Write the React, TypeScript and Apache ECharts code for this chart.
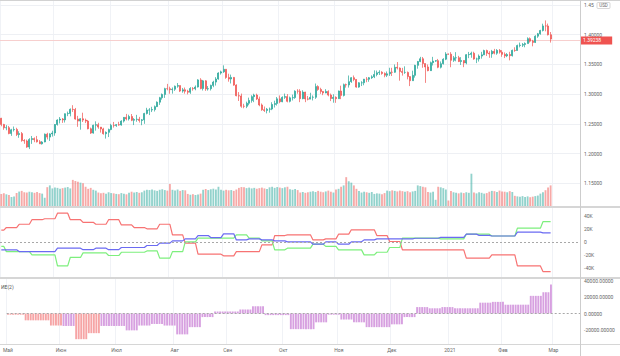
import React, { useEffect, useRef } from 'react';
import * as echarts from 'echarts';

// ---------- categories ----------
const MONTH_KEYS = ['2020-05', '2020-06', '2020-07', '2020-08', '2020-09', '2020-10', '2020-11', '2020-12', '2021-01', '2021-02', '2021-03'];
const MONTH_LABELS = ['Май', 'Июн', 'Июл', 'Авг', 'Сен', 'Окт', 'Ноя', 'Дек', '2021', 'Фев', 'Мар'];
const MONTH_DAYS: number[][] = [
  [1, 4, 5, 6, 7, 8, 11, 12, 13, 14, 15, 18, 19, 20, 21, 22, 25, 26, 27, 28, 29],
  [1, 2, 3, 4, 5, 8, 9, 10, 11, 12, 15, 16, 17, 18, 19, 22, 23, 24, 25, 26, 29, 30],
  [1, 2, 3, 6, 7, 8, 9, 10, 13, 14, 15, 16, 17, 20, 21, 22, 23, 24, 27, 28, 29, 30, 31],
  [3, 4, 5, 6, 7, 10, 11, 12, 13, 14, 17, 18, 19, 20, 21, 24, 25, 26, 27, 28, 31],
  [1, 2, 3, 4, 7, 8, 9, 10, 11, 14, 15, 16, 17, 18, 21, 22, 23, 24, 25, 28, 29, 30],
  [1, 2, 5, 6, 7, 8, 9, 12, 13, 14, 15, 16, 19, 20, 21, 22, 23, 26, 27, 28, 29, 30],
  [2, 3, 4, 5, 6, 9, 10, 11, 12, 13, 16, 17, 18, 19, 20, 23, 24, 25, 26, 27, 30],
  [1, 2, 3, 4, 7, 8, 9, 10, 11, 14, 15, 16, 17, 18, 21, 22, 23, 24, 25, 28, 29, 30, 31],
  [1, 4, 5, 6, 7, 8, 11, 12, 13, 14, 15, 18, 19, 20, 21, 22, 25, 26, 27, 28, 29],
  [1, 2, 3, 4, 5, 8, 9, 10, 11, 12, 15, 16, 17, 18, 19, 22, 23, 24, 25, 26],
  [1, 2, 3, 4, 5, 8, 9, 10, 11, 12, 15],
];

// ---------- daily candles [open, close, low, high] ----------
const OHLC_MAY = [
  [1.2594, 1.2490, 1.2459, 1.2600], [1.2490, 1.2434, 1.2400, 1.2500], [1.2434, 1.2436, 1.2392, 1.2478],
  [1.2436, 1.2337, 1.2325, 1.2465], [1.2337, 1.2400, 1.2298, 1.2416], [1.2400, 1.2406, 1.2371, 1.2455],
  [1.2406, 1.2320, 1.2295, 1.2434], [1.2320, 1.2336, 1.2266, 1.2376], [1.2336, 1.2220, 1.2199, 1.2363],
  [1.2220, 1.2213, 1.2165, 1.2243], [1.2213, 1.2110, 1.2097, 1.2235], [1.2110, 1.2236, 1.2076, 1.2259],
  [1.2236, 1.2252, 1.2163, 1.2296], [1.2252, 1.2233, 1.2192, 1.2272], [1.2233, 1.2198, 1.2186, 1.2297],
  [1.2198, 1.2164, 1.2163, 1.2228], [1.2164, 1.2195, 1.2152, 1.2210], [1.2195, 1.2327, 1.2190, 1.2337],
  [1.2327, 1.2277, 1.2238, 1.2350], [1.2277, 1.2331, 1.2213, 1.2342], [1.2331, 1.2346, 1.2286, 1.2384],
];
const OHLC_JUN = [
  [1.2346, 1.2489, 1.2300, 1.2496], [1.2489, 1.2564, 1.2470, 1.2577], [1.2564, 1.2581, 1.2507, 1.2614],
  [1.2581, 1.2566, 1.2516, 1.2598], [1.2566, 1.2670, 1.2522, 1.2674], [1.2670, 1.2674, 1.2629, 1.2706],
  [1.2674, 1.2744, 1.2626, 1.2759], [1.2744, 1.2741, 1.2700, 1.2813], [1.2741, 1.2580, 1.2569, 1.2767],
  [1.2580, 1.2546, 1.2450, 1.2634], [1.2546, 1.2585, 1.2402, 1.2596], [1.2585, 1.2563, 1.2531, 1.2687],
  [1.2563, 1.2546, 1.2513, 1.2588], [1.2546, 1.2417, 1.2408, 1.2565], [1.2417, 1.2345, 1.2330, 1.2437],
  [1.2345, 1.2477, 1.2335, 1.2486], [1.2477, 1.2486, 1.2386, 1.2542], [1.2486, 1.2445, 1.2417, 1.2518],
  [1.2445, 1.2414, 1.2353, 1.2448], [1.2414, 1.2334, 1.2319, 1.2434], [1.2334, 1.2357, 1.2252, 1.2373],
  [1.2357, 1.2404, 1.2278, 1.2420],
];
const OHLC_JUL = [
  [1.2404, 1.2474, 1.2393, 1.2500], [1.2474, 1.2470, 1.2437, 1.2532], [1.2470, 1.2486, 1.2449, 1.2497],
  [1.2486, 1.2480, 1.2469, 1.2534], [1.2480, 1.2546, 1.2469, 1.2561], [1.2546, 1.2609, 1.2522, 1.2614],
  [1.2609, 1.2583, 1.2558, 1.2667], [1.2583, 1.2623, 1.2556, 1.2653], [1.2623, 1.2560, 1.2545, 1.2665],
  [1.2560, 1.2574, 1.2479, 1.2596], [1.2574, 1.2578, 1.2535, 1.2651], [1.2578, 1.2557, 1.2521, 1.2617],
  [1.2557, 1.2567, 1.2477, 1.2581], [1.2567, 1.2674, 1.2500, 1.2685], [1.2674, 1.2731, 1.2658, 1.2769],
  [1.2731, 1.2733, 1.2647, 1.2764], [1.2733, 1.2739, 1.2698, 1.2786], [1.2739, 1.2789, 1.2707, 1.2808],
  [1.2789, 1.2864, 1.2782, 1.2877], [1.2864, 1.2938, 1.2818, 1.2953], [1.2938, 1.2994, 1.2906, 1.3010],
  [1.2994, 1.3091, 1.2936, 1.3106], [1.3091, 1.3090, 1.3063, 1.3171],
];
const OHLC_AUG = [
  [1.3090, 1.3074, 1.3006, 1.3124], [1.3074, 1.3081, 1.3007, 1.3111], [1.3081, 1.3132, 1.3053, 1.3143],
  [1.3132, 1.3143, 1.3106, 1.3185], [1.3143, 1.3050, 1.3034, 1.3144], [1.3050, 1.3072, 1.3023, 1.3103],
  [1.3072, 1.3047, 1.3007, 1.3110], [1.3047, 1.3031, 1.2995, 1.3072], [1.3031, 1.3094, 1.3004, 1.3116],
  [1.3094, 1.3089, 1.3057, 1.3117], [1.3089, 1.3118, 1.3064, 1.3145], [1.3118, 1.3238, 1.3110, 1.3250],
  [1.3238, 1.3093, 1.3080, 1.3267], [1.3093, 1.3222, 1.3060, 1.3237], [1.3222, 1.3086, 1.3054, 1.3233],
  [1.3086, 1.3090, 1.3058, 1.3134], [1.3090, 1.3146, 1.3060, 1.3158], [1.3146, 1.3201, 1.3115, 1.3223],
  [1.3201, 1.3253, 1.3143, 1.3284], [1.3253, 1.3353, 1.3241, 1.3367], [1.3353, 1.3373, 1.3327, 1.3393],
];
const OHLC_SEP = [
  [1.3373, 1.3416, 1.3356, 1.3482], [1.3416, 1.3279, 1.3257, 1.3419], [1.3279, 1.3253, 1.3208, 1.3342],
  [1.3253, 1.3280, 1.3178, 1.3327], [1.3280, 1.3151, 1.3139, 1.3287], [1.3151, 1.2972, 1.2963, 1.3164],
  [1.2972, 1.2968, 1.2884, 1.3033], [1.2968, 1.2795, 1.2770, 1.3008], [1.2795, 1.2794, 1.2762, 1.2837],
  [1.2794, 1.2846, 1.2764, 1.2873], [1.2846, 1.2893, 1.2812, 1.2940], [1.2893, 1.2957, 1.2855, 1.2980],
  [1.2957, 1.2983, 1.2864, 1.3006], [1.2983, 1.2918, 1.2900, 1.3007], [1.2918, 1.2817, 1.2796, 1.2957],
  [1.2817, 1.2737, 1.2719, 1.2842], [1.2737, 1.2725, 1.2700, 1.2791], [1.2725, 1.2747, 1.2676, 1.2767],
  [1.2747, 1.2748, 1.2688, 1.2774], [1.2748, 1.2825, 1.2730, 1.2863], [1.2825, 1.2842, 1.2774, 1.2889],
  [1.2842, 1.2920, 1.2807, 1.2951],
];
const OHLC_OCT = [
  [1.2920, 1.2871, 1.2846, 1.2977], [1.2871, 1.2945, 1.2863, 1.2962], [1.2945, 1.2958, 1.2919, 1.3008],
  [1.2958, 1.2878, 1.2861, 1.3000], [1.2878, 1.2937, 1.2860, 1.2958], [1.2937, 1.2941, 1.2893, 1.2991],
  [1.2941, 1.3049, 1.2920, 1.3063], [1.3049, 1.3048, 1.3006, 1.3082], [1.3048, 1.2923, 1.2864, 1.3082],
  [1.2923, 1.3033, 1.2913, 1.3064], [1.3033, 1.2918, 1.2864, 1.3038], [1.2918, 1.2915, 1.2894, 1.2969],
  [1.2915, 1.2946, 1.2915, 1.3022], [1.2946, 1.2946, 1.2893, 1.2977], [1.2946, 1.3126, 1.2919, 1.3177],
  [1.3126, 1.3078, 1.3055, 1.3148], [1.3078, 1.3044, 1.3004, 1.3106], [1.3044, 1.3018, 1.2981, 1.3052],
  [1.3018, 1.3045, 1.3014, 1.3082], [1.3045, 1.2983, 1.2962, 1.3063], [1.2983, 1.2925, 1.2882, 1.3009],
  [1.2925, 1.2945, 1.2855, 1.2996],
];
const OHLC_NOV = [
  [1.2945, 1.2922, 1.2853, 1.2962], [1.2922, 1.3051, 1.2920, 1.3059], [1.3051, 1.2978, 1.2915, 1.3141],
  [1.2978, 1.3158, 1.2960, 1.3176], [1.3158, 1.3154, 1.3108, 1.3176], [1.3154, 1.3209, 1.3109, 1.3312],
  [1.3209, 1.3275, 1.3188, 1.3285], [1.3275, 1.3246, 1.3216, 1.3312], [1.3246, 1.3117, 1.3106, 1.3253],
  [1.3117, 1.3190, 1.3106, 1.3200], [1.3190, 1.3190, 1.3135, 1.3216], [1.3190, 1.3250, 1.3148, 1.3254],
  [1.3250, 1.3249, 1.3199, 1.3286], [1.3249, 1.3275, 1.3206, 1.3287], [1.3275, 1.3289, 1.3254, 1.3315],
  [1.3289, 1.3329, 1.3268, 1.3398], [1.3329, 1.3358, 1.3298, 1.3395], [1.3358, 1.3367, 1.3320, 1.3400],
  [1.3367, 1.3346, 1.3325, 1.3384], [1.3346, 1.3317, 1.3282, 1.3364], [1.3317, 1.3340, 1.3286, 1.3380],
];
const OHLC_DEC = [
  [1.3340, 1.3367, 1.3305, 1.3442], [1.3367, 1.3366, 1.3303, 1.3441], [1.3366, 1.3450, 1.3358, 1.3497],
  [1.3450, 1.3437, 1.3413, 1.3538], [1.3437, 1.3380, 1.3225, 1.3448], [1.3380, 1.3364, 1.3310, 1.3440],
  [1.3364, 1.3364, 1.3339, 1.3466], [1.3364, 1.3293, 1.3247, 1.3379], [1.3293, 1.3224, 1.3134, 1.3300],
  [1.3224, 1.3314, 1.3224, 1.3393], [1.3314, 1.3482, 1.3276, 1.3492], [1.3482, 1.3546, 1.3426, 1.3557],
  [1.3546, 1.3593, 1.3536, 1.3625], [1.3593, 1.3513, 1.3442, 1.3623], [1.3513, 1.3455, 1.3188, 1.3512],
  [1.3455, 1.3393, 1.3383, 1.3497], [1.3393, 1.3528, 1.3388, 1.3546], [1.3528, 1.3554, 1.3480, 1.3625],
  [1.3554, 1.3561, 1.3540, 1.3570], [1.3561, 1.3450, 1.3434, 1.3590], [1.3450, 1.3510, 1.3430, 1.3548],
  [1.3510, 1.3585, 1.3497, 1.3602], [1.3585, 1.3673, 1.3570, 1.3704],
];
const OHLC_JAN = [
  [1.3673, 1.3670, 1.3660, 1.3680], [1.3670, 1.3567, 1.3451, 1.3704], [1.3567, 1.3609, 1.3540, 1.3640],
  [1.3609, 1.3611, 1.3550, 1.3704], [1.3611, 1.3547, 1.3537, 1.3642], [1.3547, 1.3564, 1.3489, 1.3620],
  [1.3564, 1.3522, 1.3452, 1.3566], [1.3522, 1.3662, 1.3500, 1.3671], [1.3662, 1.3666, 1.3603, 1.3708],
  [1.3666, 1.3686, 1.3610, 1.3712], [1.3686, 1.3589, 1.3577, 1.3711], [1.3589, 1.3590, 1.3520, 1.3612],
  [1.3590, 1.3638, 1.3546, 1.3665], [1.3638, 1.3659, 1.3595, 1.3709], [1.3659, 1.3731, 1.3655, 1.3745],
  [1.3731, 1.3687, 1.3640, 1.3746], [1.3687, 1.3674, 1.3609, 1.3720], [1.3674, 1.3718, 1.3609, 1.3742],
  [1.3718, 1.3686, 1.3667, 1.3759], [1.3686, 1.3734, 1.3660, 1.3755], [1.3734, 1.3704, 1.3679, 1.3756],
];
const OHLC_FEB = [
  [1.3704, 1.3667, 1.3626, 1.3738], [1.3667, 1.3641, 1.3605, 1.3700], [1.3641, 1.3664, 1.3620, 1.3689],
  [1.3664, 1.3645, 1.3566, 1.3710], [1.3645, 1.3734, 1.3631, 1.3747], [1.3734, 1.3732, 1.3710, 1.3786],
  [1.3732, 1.3815, 1.3730, 1.3830], [1.3815, 1.3822, 1.3785, 1.3865], [1.3822, 1.3834, 1.3791, 1.3858],
  [1.3834, 1.3848, 1.3786, 1.3868], [1.3848, 1.3931, 1.3848, 1.3953], [1.3931, 1.3889, 1.3865, 1.3951],
  [1.3889, 1.3868, 1.3802, 1.3910], [1.3868, 1.3972, 1.3857, 1.3988], [1.3972, 1.4012, 1.3944, 1.4027],
  [1.4012, 1.4068, 1.3998, 1.4079], [1.4068, 1.4145, 1.4052, 1.4182], [1.4145, 1.4144, 1.4054, 1.4237],
  [1.4144, 1.3996, 1.3985, 1.4184], [1.3996, 1.3924, 1.3865, 1.4042],
];

// ---------- daily volume ----------
const VOLUME = [
  88, 92, 85, 80, 65, 70, 95, 105, 110, 100, 98, 104, 100, 96, 102, 94, 90, 60, 137, 150,
  128, 135, 132, 126, 130, 134, 138, 128, 190, 182, 176, 170, 165, 140, 125, 132, 118, 112,
  98, 92, 96, 90, 100, 94, 92, 88, 86, 94, 90, 85, 96, 104, 98, 102, 96, 100,
  112, 118, 116, 120, 114, 110, 118, 122, 116, 112, 160, 118, 112, 120, 110, 116, 114,
  88, 82, 86, 80, 84, 90, 118, 124, 116, 122, 126, 120, 140, 118, 112, 118, 114, 116, 110, 120,
  132, 138, 136, 130, 134, 128, 132, 126, 130, 134, 128, 124, 136, 140, 132, 138, 134, 130, 136, 140,
  122, 118, 124, 116, 98, 102, 96, 100, 104, 108, 102, 110, 104, 100, 106, 112, 104, 98,
  120, 125, 140, 150, 210, 180, 170, 150, 125, 110, 98, 104, 100, 96, 102, 88, 92, 90, 86, 94,
  112, 108, 114, 110, 106, 112, 108, 104, 108, 100, 106, 110, 150, 145, 140, 136, 102, 98, 104, 45,
  140, 136, 130, 120, 40, 110, 100, 96, 92, 98, 94, 100, 96, 235, 98, 92, 100, 96, 90, 94,
  104, 110, 108, 102, 112, 106, 104, 100, 108, 102, 74, 70, 68, 72, 66, 70, 64, 68, 72, 76,
  90, 100, 115, 135, 150,
];

// ---------- weekly positioning (thousands, Tuesday to Tuesday) ----------
const COT_RED = [18, 22, 27, 34, 35.5, 44, 34, 30, 27, 34, 26, 22, 20, 27, 10.8, -2, -19, -19, -21.5, -15, -15, -4.6, 9.7,
  10.8, 10.8, 3, 4.6, 11.8, 18.5, 18.5, 9.7, 0.5, -12.3, -12.3, -12.3, -12.3, -12.3, -25, -25, -20, -20, -37, -37, -45.6];
const COT_GREEN = [-7, -15, -15, -20, -20, -37, -24, -17, -17, -21, -16, -16, -14, -25, -15, 0, 5.6, 5.6, 5.6, 10.8, 5.6, 1.5, -12.3,
  -9.7, -9.7, -3.6, -7, -12.3, -12.3, -20, -16, -8.7, 5.6, 5.6, 5.6, 4.6, 4.6, 11.8, 11.8, 9, 9, 21, 21, 31];
const COT_BLUE = [-12.3, -12.3, -15, -15, -15, -9.7, -9.7, -12, -9.7, -12, -8.7, -8.7, -5.6, -2, 1.5, 4.6, 9.7, 6.6, 12.3, 3, 4.6, 3, 1.5,
  0, 0, -3.6, 0, -3.6, 0, 3, 4.6, 4.6, 4.6, 5.5, 5.5, 7, 7, 11.8, 10, 9, 9, 15, 15, 13.8];

// ---------- weekly histogram ----------
const HIST_WEEKLY = [-1500, -1500, -8500, -8500, -15000, -15500, -32000, -24500, -15500, -15500, -21000, -15000, -13000, -15000,
  -26000, -17000, -4500, 2500, 2500, 5000, 9000, -2000, -2000, -19500, -19500, -11000, -1500, -7500, -11000, -17000, -17000,
  -13500, -4500, 8000, 6500, 8000, 6500, 6500, 13500, 14500, 11000, 11000, 22000, 26500];
const HIST_RED_WEEKS = [0, 1, 2, 3, 4, 6, 7];
const HIST_LAST = 36000;

const LAST_PRICE = 1.39238;
const PRICE_TICKS = [1.15, 1.2, 1.25, 1.3, 1.35, 1.4, 1.45];
const COT_TICKS = [-40000, -20000, 0, 20000, 40000];
const HIST_TICKS = [-20000, 0, 20000, 40000];

// ---------- derived tables ----------
const DATES: string[] = [];
const MONTH_START: Record<number, string> = {};
MONTH_KEYS.forEach((m, mi) => {
  MONTH_DAYS[mi].forEach((d, di) => {
    if (di === 0) MONTH_START[DATES.length] = MONTH_LABELS[mi];
    DATES.push(`${m}-${String(d).padStart(2, '0')}`);
  });
});
const OHLC = [...OHLC_MAY, ...OHLC_JUN, ...OHLC_JUL, ...OHLC_AUG, ...OHLC_SEP, ...OHLC_OCT, ...OHLC_NOV, ...OHLC_DEC, ...OHLC_JAN, ...OHLC_FEB];
const N = OHLC.length;
const weekOf = (i: number) => Math.floor((i + 3) / 5);

const FONT = 'Roboto, sans-serif';
const LABEL_COLOR = '#666';
const UP = '#26a69a';
const DOWN = '#ef5350';

const near = (arr: number[], v: number) => arr.some((t) => Math.abs(t - v) < 1e-6);
const TOP_PRICE = PRICE_TICKS[PRICE_TICKS.length - 1];

export default function App() {
  const ref = useRef<HTMLDivElement>(null);
  useEffect(() => {
    document.body.style.margin = '0';
    if (!ref.current) return;
    const chart = echarts.init(ref.current, null, { renderer: 'svg' });

    const volData = VOLUME.map((v, i) => ({
      value: v,
      itemStyle: { color: OHLC[i][1] >= OHLC[i][0] ? 'rgba(38,166,154,0.5)' : 'rgba(239,83,80,0.5)' },
    }));
    const cot = (arr: number[]) => OHLC.map((_, i) => arr[weekOf(i)] * 1000);
    const histData = OHLC.map((_, i) => {
      const w = weekOf(i);
      const v = i === N - 1 ? HIST_LAST : HIST_WEEKLY[w];
      return { value: v, itemStyle: { color: HIST_RED_WEEKS.includes(w) ? '#f6a4a5' : '#d7a0e0' } };
    });

    const isStart = (i: number) => MONTH_START[i] !== undefined;
    const xAxis = (gridIndex: number, labels: boolean) => ({
      type: 'category',
      gridIndex,
      data: DATES,
      boundaryGap: true,
      axisLine: { show: false },
      axisTick: { show: false },
      axisLabel: {
        show: labels,
        interval: (i: number) => isStart(i),
        formatter: (_v: string, i: number) => MONTH_START[i] ?? '',
        fontSize: 5,
        color: LABEL_COLOR,
        fontFamily: FONT,
        margin: 3,
      },
      splitLine: { show: true, interval: (i: number) => isStart(i), lineStyle: { color: '#f0f2f6', width: 1 } },
    });
    const yLabel = { fontSize: 5, color: LABEL_COLOR, fontFamily: FONT, margin: 4 };

    chart.setOption({
      animation: false,
      grid: [
        { left: 0, right: 40, top: 0, height: 206 },
        { left: 0, right: 40, top: 208, height: 69 },
        { left: 0, right: 40, top: 279, height: 65 },
      ],
      xAxis: [xAxis(0, false), xAxis(1, false), xAxis(2, true)],
      yAxis: [
        {
          type: 'value', gridIndex: 0, position: 'right', min: 1.112, max: 1.458, interval: 0.002, scale: true,
          axisLine: { show: false }, axisTick: { show: false }, splitLine: { show: false },
          axisLabel: {
            ...yLabel,
            // the top label is partly hidden behind the currency box
            formatter: (v: number) => (Math.abs(v - TOP_PRICE) < 1e-6 ? v.toFixed(2) : near(PRICE_TICKS, v) ? v.toFixed(5) : ''),
          },
        },
        { type: 'value', gridIndex: 0, min: 0, max: 1500, show: false },
        {
          type: 'value', gridIndex: 1, position: 'right', min: -54000, max: 52000, interval: 2000,
          axisLine: { show: false }, axisTick: { show: false }, splitLine: { show: false },
          axisLabel: { ...yLabel, formatter: (v: number) => (near(COT_TICKS, v) ? (v === 0 ? '0' : `${v / 1000}K`) : '') },
        },
        {
          type: 'value', gridIndex: 2, position: 'right', min: -38000, max: 43000, interval: 1000,
          axisLine: { show: false }, axisTick: { show: false }, splitLine: { show: false },
          axisLabel: { ...yLabel, formatter: (v: number) => (near(HIST_TICKS, v) ? v.toFixed(5) : '') },
        },
      ],
      series: [
        {
          type: 'bar', xAxisIndex: 0, yAxisIndex: 1, data: volData, barWidth: '72%', silent: true, z: 1,
        },
        {
          type: 'candlestick', xAxisIndex: 0, yAxisIndex: 0, data: OHLC, barWidth: 1.5, z: 3,
          itemStyle: { color: UP, color0: DOWN, borderColor: UP, borderColor0: DOWN, borderWidth: 0.7 },
          markLine: {
            silent: true, symbol: ['none', 'none'], animation: false, z: 1,
            label: { show: false },
            lineStyle: { color: '#eef0f4', width: 1, type: 'solid' },
            data: [
              ...PRICE_TICKS.map((t) => ({ yAxis: t })),
              {
                yAxis: LAST_PRICE,
                lineStyle: { color: '#f7cfce', width: 1, type: 'solid' },
                label: {
                  show: true, position: 'end', distance: 0, formatter: LAST_PRICE.toFixed(5),
                  backgroundColor: DOWN, color: '#fff', fontSize: 5, fontFamily: FONT, padding: [1.5, 11, 1.5, 3],
                },
              },
            ],
          },
        },
        {
          type: 'line', xAxisIndex: 1, yAxisIndex: 2, data: cot(COT_RED), showSymbol: false, silent: true,
          lineStyle: { color: '#f77373', width: 1.2 }, z: 3,
          markLine: {
            silent: true, symbol: ['none', 'none'], label: { show: false },
            lineStyle: { color: '#a8a8a8', width: 1, type: [2, 2] },
            data: [{ yAxis: 0 }],
          },
        },
        { type: 'line', xAxisIndex: 1, yAxisIndex: 2, data: cot(COT_GREEN), showSymbol: false, silent: true, lineStyle: { color: '#7def7d', width: 1.2 }, z: 3 },
        { type: 'line', xAxisIndex: 1, yAxisIndex: 2, data: cot(COT_BLUE), showSymbol: false, silent: true, lineStyle: { color: '#6b6bf2', width: 1.2 }, z: 4 },
        {
          type: 'bar', xAxisIndex: 2, yAxisIndex: 3, data: histData, barWidth: '75%', silent: true,
          markLine: {
            silent: true, symbol: ['none', 'none'], label: { show: false },
            lineStyle: { color: '#a8a8a8', width: 1, type: [2, 2] },
            data: [{ yAxis: 0 }],
          },
        },
      ],
      graphic: [
        { type: 'line', z: 100, shape: { x1: 0, y1: 0.5, x2: 620, y2: 0.5 }, style: { stroke: '#d2d2d2', lineWidth: 1 } },
        { type: 'line', z: 100, shape: { x1: 0, y1: 207, x2: 620, y2: 207 }, style: { stroke: '#d6d6d6', lineWidth: 2 } },
        { type: 'line', z: 100, shape: { x1: 0, y1: 278, x2: 620, y2: 278 }, style: { stroke: '#d6d6d6', lineWidth: 2 } },
        { type: 'line', z: 100, shape: { x1: 0, y1: 344.5, x2: 620, y2: 344.5 }, style: { stroke: '#d6d6d6', lineWidth: 1 } },
        { type: 'line', z: 100, shape: { x1: 580.5, y1: 0, x2: 580.5, y2: 356 }, style: { stroke: '#cdcdcd', lineWidth: 1 } },
        { type: 'rect', z: 100, shape: { x: 597, y: 2.5, width: 13, height: 6, r: 1 }, style: { fill: '#fff', stroke: '#bdbdbd', lineWidth: 0.6 } },
        { type: 'text', z: 101, x: 603.5, y: 5.6, style: { text: 'USD', fontSize: 4.5, fill: '#666', fontFamily: FONT, align: 'center', verticalAlign: 'middle' } },
        { type: 'text', z: 101, x: 1, y: 287, style: { text: 'ИЕ(2)', fontSize: 5, fill: '#555', fontFamily: FONT, verticalAlign: 'middle' } },
      ],
    });
    return () => chart.dispose();
  }, []);
  return <div ref={ref} style={{ width: 620, height: 356 }} />;
}
